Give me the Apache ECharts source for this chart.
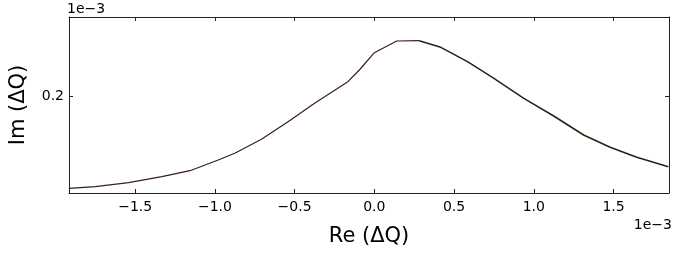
<!DOCTYPE html>
<html><head><meta charset="utf-8">
<script src="https://cdn.jsdelivr.net/npm/echarts@6/dist/echarts.min.js"></script>
<style>html,body{margin:0;padding:0;background:#fff}#c{width:676px;height:258px}</style>
</head><body><div id="c"></div>
<script>
// Re(ΔQ) values (×1e-3)
const reVals = [-1.916,-1.750,-1.541,-1.333,-1.156,-0.979,-0.875,-0.708,-0.541,-0.375,-0.166,-0.094,0.000,0.140,0.281,0.417,0.584,0.750,0.9375,1.125,1.3125,1.479,1.646,1.844];
// Im(ΔQ) values (×1e-3)
const imVals = [0.1084,0.1100,0.1140,0.1200,0.1260,0.1367,0.1434,0.1574,0.1750,0.1934,0.2150,0.2267,0.2440,0.2557,0.2560,0.2494,0.2350,0.2184,0.1984,0.1807,0.1617,0.1494,0.1394,0.1300];
const xTickLabels = ['−1.5','−1.0','−0.5','0.0','0.5','1.0','1.5'];
const yTickLabels = ['0.2'];
const peakIndex = 14;

const xMin = -1.915, xMax = 1.848, yMin = 0.1037, yMax = 0.2797;
const FONT = 'DejaVu Sans';
const fmt = v => {
  const s = (Math.round(v*10)/10).toFixed(1);
  const lbl = s.replace('-', '−');
  return (xTickLabels.includes(lbl) || yTickLabels.includes(lbl)) ? lbl : '';
};
const data = reVals.map((r,i)=>[r, imVals[i]]);
const frame = {show:true, onZero:false, lineStyle:{color:'#222', width:1}};
const tick = {show:true, inside:true, length:4, lineStyle:{color:'#222'}};
const chart = echarts.init(document.getElementById('c'), null, {renderer:'canvas'});
chart.setOption({
  animation:false,
  grid:{left:67, top:17, right:7, bottom:65, containLabel:false},
  xAxis:[
    {type:'value', min:xMin, max:xMax, splitNumber:7, position:'bottom',
     axisLine:frame, splitLine:{show:false}, axisTick:tick,
     axisLabel:{formatter:fmt, showMinLabel:false, showMaxLabel:false, color:'#000', fontFamily:FONT, fontSize:14, margin:7},
     name:'Re (ΔQ)', nameLocation:'middle', nameGap:33,
     nameTextStyle:{fontFamily:FONT, fontSize:21, color:'#000'}},
    {type:'value', min:xMin, max:xMax, splitNumber:7, position:'top',
     axisLine:frame, splitLine:{show:false}, axisTick:tick,
     axisLabel:{show:false}}
  ],
  yAxis:[
    {type:'value', min:yMin, max:yMax, splitNumber:2, position:'left',
     axisLine:frame, splitLine:{show:false}, axisTick:tick,
     axisLabel:{formatter:fmt, showMinLabel:false, showMaxLabel:false, color:'#000', fontFamily:FONT, fontSize:14, margin:5},
     name:'Im (ΔQ)', nameLocation:'middle', nameGap:40, nameRotate:90,
     nameTextStyle:{fontFamily:FONT, fontSize:21, color:'#000'}},
    {type:'value', min:yMin, max:yMax, splitNumber:2, position:'right',
     axisLine:frame, splitLine:{show:false}, axisTick:tick,
     axisLabel:{show:false}}
  ],
  graphic:[
    {type:'text', left:67, top:2, style:{text:'1e−3', fontFamily:FONT, fontSize:14, fill:'#000'}},
    {type:'text', right:4, top:218, style:{text:'1e−3', fontFamily:FONT, fontSize:14, fill:'#000'}}
  ],
  series:[
    {type:'line', data:data.slice(0, peakIndex+1), showSymbol:false, smooth:false,
     lineStyle:{color:'#3a1c22', width:1.2}},
    {type:'line', data:data.slice(peakIndex), showSymbol:false, smooth:false,
     lineStyle:{color:'#1f2612', width:1.5}}
  ]
});
</script></body></html>
